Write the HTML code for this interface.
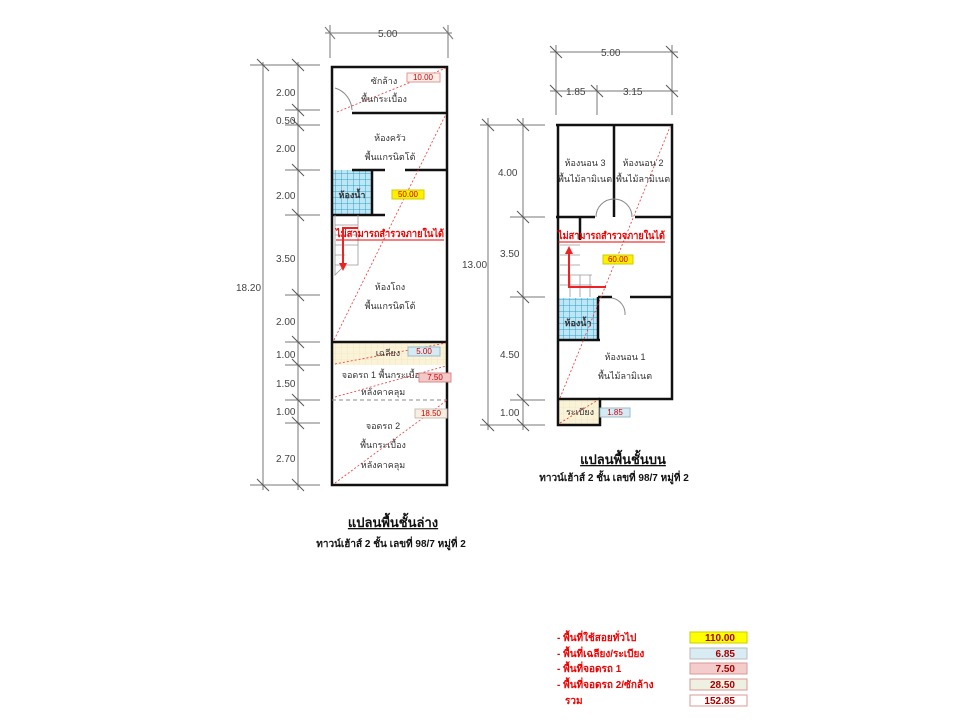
<!DOCTYPE html>
<html><head><meta charset="utf-8"><style>
html,body{margin:0;padding:0;background:#fff;width:960px;height:720px;overflow:hidden}
svg{display:block}
text{font-family:"Liberation Sans","DejaVu Sans",sans-serif}
.d{font-size:10px;fill:#444}
.t{font-size:9px;fill:#333;text-anchor:middle}
.r{font-size:10px;fill:#e00;font-weight:bold}
.b{font-size:8px;fill:#c00;text-anchor:middle}
</style></head><body>
<svg width="960" height="720" viewBox="0 0 960 720">
<defs>
<pattern id="g" width="6" height="6" patternUnits="userSpaceOnUse"><rect width="6" height="6" fill="#bfe6f5"/><path d="M6 0V6M0 6H6" stroke="#2aa3cf" stroke-width="1"/></pattern>
<pattern id="y" width="6" height="6" patternUnits="userSpaceOnUse"><rect width="6" height="6" fill="#fbf3d8"/><path d="M6 0V6M0 6H6" stroke="#eadfb8" stroke-width="0.6"/></pattern>
</defs>
<!-- LEFT PLAN -->
<g stroke="#777" stroke-width="1" fill="none">
<line x1="325" y1="33" x2="452" y2="33"/>
<line x1="330" y1="25" x2="330" y2="58"/><line x1="448" y1="25" x2="448" y2="58"/>
<line x1="325" y1="27" x2="335" y2="39"/><line x1="443" y1="27" x2="453" y2="39"/>
<line x1="263" y1="62" x2="263" y2="490"/><line x1="298" y1="62" x2="298" y2="490"/>
<line x1="250" y1="65" x2="320" y2="65"/><line x1="250" y1="485" x2="320" y2="485"/>
<line x1="285" y1="110" x2="320" y2="110"/><line x1="285" y1="125" x2="320" y2="125"/>
<line x1="285" y1="170" x2="320" y2="170"/><line x1="285" y1="215" x2="320" y2="215"/>
<line x1="285" y1="295" x2="320" y2="295"/><line x1="285" y1="342" x2="320" y2="342"/>
<line x1="285" y1="365" x2="320" y2="365"/><line x1="285" y1="400" x2="320" y2="400"/>
<line x1="285" y1="423" x2="320" y2="423"/>
</g>
<g stroke="#555" stroke-width="1">
<line x1="257" y1="59" x2="269" y2="71"/><line x1="292" y1="59" x2="304" y2="71"/>
<line x1="292" y1="104" x2="304" y2="116"/><line x1="292" y1="119" x2="304" y2="131"/>
<line x1="292" y1="164" x2="304" y2="176"/><line x1="292" y1="209" x2="304" y2="221"/>
<line x1="292" y1="289" x2="304" y2="301"/><line x1="292" y1="336" x2="304" y2="348"/>
<line x1="292" y1="359" x2="304" y2="371"/><line x1="292" y1="394" x2="304" y2="406"/>
<line x1="292" y1="417" x2="304" y2="429"/><line x1="257" y1="479" x2="269" y2="491"/><line x1="292" y1="479" x2="304" y2="491"/>
</g>
<text class="d" x="378" y="37">5.00</text>
<text class="d" x="276" y="96">2.00</text><text class="d" x="276" y="124">0.50</text>
<text class="d" x="276" y="152">2.00</text><text class="d" x="276" y="199">2.00</text>
<text class="d" x="276" y="262">3.50</text><text class="d" x="276" y="325">2.00</text>
<text class="d" x="276" y="358">1.00</text><text class="d" x="276" y="387">1.50</text>
<text class="d" x="276" y="415">1.00</text><text class="d" x="276" y="462">2.70</text>
<text class="d" x="236" y="291">18.20</text>
<rect x="333" y="342" width="114" height="23" fill="url(#y)"/>
<rect x="333" y="170" width="39" height="45" fill="url(#g)"/>
<g stroke="#111" stroke-width="2.5" fill="none">
<rect x="332" y="67" width="115" height="418"/>
<line x1="352" y1="113" x2="447" y2="113"/>
<line x1="352" y1="170" x2="385" y2="170"/><line x1="405" y1="170" x2="447" y2="170"/>
<line x1="372" y1="170" x2="372" y2="215"/><line x1="332" y1="215" x2="385" y2="215"/>
<line x1="332" y1="342" x2="447" y2="342"/>
</g>
<path d="M335 88 A24 24 0 0 1 352 110" stroke="#888" fill="none"/>
<g stroke="#999" stroke-width="0.8" fill="none">
<path d="M335 215 V275 L345 265 H358 V215"/>
<path d="M335 225H358M335 235H358M335 245H358M335 255H345M335 265H345"/>
</g>
<line x1="332" y1="400" x2="447" y2="400" stroke="#888" stroke-dasharray="4,3"/>
<g stroke="#e33" stroke-width="0.8" stroke-dasharray="2,2" fill="none">
<line x1="337" y1="112" x2="446" y2="68"/><line x1="334" y1="340" x2="446" y2="114"/>
<line x1="335" y1="364" x2="446" y2="343"/><line x1="335" y1="397" x2="446" y2="366"/>
<line x1="335" y1="483" x2="446" y2="401"/>
</g>
<text class="t" x="384" y="84">ซักล้าง</text><text class="t" x="384" y="102">พื้นกระเบื้อง</text>
<text class="t" x="390" y="141">ห้องครัว</text><text class="t" x="390" y="160">พื้นแกรนิตโต้</text>
<text class="t" x="352" y="198" font-weight="bold">ห้องน้ำ</text>
<text class="t" x="390" y="290">ห้องโถง</text><text class="t" x="390" y="309">พื้นแกรนิตโต้</text>
<text class="t" x="388" y="356">เฉลียง</text>
<text class="t" x="383" y="378">จอดรถ 1 พื้นกระเบื้อง</text><text class="t" x="383" y="395">หลังคาคลุม</text>
<text class="t" x="383" y="429">จอดรถ 2</text><text class="t" x="383" y="448">พื้นกระเบื้อง</text><text class="t" x="383" y="468">หลังคาคลุม</text>
<rect x="407" y="73" width="33" height="9" fill="#fbeee8" stroke="#d99"/><text class="b" x="423" y="80">10.00</text>
<rect x="392" y="190" width="32" height="9" fill="#ffef00" stroke="#cc0"/><text class="b" x="408" y="197">50.00</text>
<rect x="408" y="347" width="32" height="9" fill="#d6eaf4" stroke="#9bc"/><text class="b" x="424" y="354">5.00</text>
<rect x="419" y="373" width="32" height="9" fill="#f3c8c8" stroke="#d88"/><text class="b" x="435" y="380">7.50</text>
<rect x="415" y="409" width="32" height="9" fill="#f7efe0" stroke="#cbb"/><text class="b" x="431" y="416">18.50</text>
<text class="r" x="336" y="237" textLength="108" lengthAdjust="spacingAndGlyphs">ไม่สามารถสำรวจภายในได้</text>
<line x1="336" y1="240" x2="444" y2="240" stroke="#e00"/>
<path d="M358 228 H343 V266" stroke="#e22" stroke-width="2" fill="none"/><path d="M339 263 L343 271 L347 263Z" fill="#e22"/>
<text x="393" y="527" font-size="13" font-weight="bold" text-anchor="middle" fill="#111" text-decoration="underline">แปลนพื้นชั้นล่าง</text>
<text x="391" y="547" font-size="10" font-weight="bold" text-anchor="middle" fill="#111">ทาวน์เฮ้าส์ 2 ชั้น เลขที่ 98/7 หมู่ที่ 2</text>

<!-- RIGHT PLAN -->
<g stroke="#777" stroke-width="1" fill="none">
<line x1="550" y1="52" x2="678" y2="52"/><line x1="550" y1="91" x2="678" y2="91"/>
<line x1="556" y1="45" x2="556" y2="115"/><line x1="672" y1="45" x2="672" y2="115"/><line x1="597" y1="85" x2="597" y2="115"/>
<line x1="488" y1="118" x2="488" y2="430"/><line x1="523" y1="118" x2="523" y2="430"/>
<line x1="480" y1="125" x2="545" y2="125"/><line x1="510" y1="217" x2="545" y2="217"/>
<line x1="510" y1="297" x2="545" y2="297"/><line x1="510" y1="400" x2="545" y2="400"/>
<line x1="480" y1="425" x2="545" y2="425"/>
</g>
<g stroke="#555">
<line x1="550" y1="46" x2="562" y2="58"/><line x1="666" y1="46" x2="678" y2="58"/>
<line x1="550" y1="85" x2="562" y2="97"/><line x1="591" y1="85" x2="603" y2="97"/><line x1="666" y1="85" x2="678" y2="97"/>
<line x1="482" y1="119" x2="494" y2="131"/><line x1="517" y1="119" x2="529" y2="131"/>
<line x1="517" y1="211" x2="529" y2="223"/><line x1="517" y1="291" x2="529" y2="303"/>
<line x1="517" y1="394" x2="529" y2="406"/><line x1="482" y1="419" x2="494" y2="431"/><line x1="517" y1="419" x2="529" y2="431"/>
</g>
<text class="d" x="601" y="56">5.00</text><text class="d" x="566" y="95">1.85</text><text class="d" x="623" y="95">3.15</text>
<text class="d" x="498" y="176">4.00</text><text class="d" x="500" y="257">3.50</text>
<text class="d" x="462" y="268">13.00</text><text class="d" x="500" y="358">4.50</text><text class="d" x="500" y="416">1.00</text>
<rect x="559" y="298" width="39" height="42" fill="url(#g)"/>
<rect x="559" y="400" width="41" height="25" fill="url(#y)"/>
<g stroke="#111" stroke-width="2.5" fill="none">
<path d="M556 125 H672 V399 H600 V425 H558 V125"/>
<line x1="614" y1="125" x2="614" y2="217"/>
<line x1="556" y1="217" x2="595" y2="217"/><line x1="635" y1="217" x2="672" y2="217"/>
<line x1="580" y1="217" x2="580" y2="240"/>
<line x1="598" y1="297" x2="598" y2="340"/><line x1="558" y1="340" x2="600" y2="340"/>
<line x1="598" y1="297" x2="612" y2="297"/><line x1="630" y1="297" x2="672" y2="297"/>
<line x1="558" y1="399" x2="600" y2="399"/>
</g>
<path d="M596 217 A18 18 0 0 1 614 199 M614 199 A18 18 0 0 1 632 217 M612 298 A16 16 0 0 1 625 315" stroke="#888" fill="none"/>
<g stroke="#999" stroke-width="0.8" fill="none">
<path d="M560 245H580M560 255H580M560 265H580M560 275H592M560 285H592M570 275V297M580 275V297M590 275V297"/>
</g>
<g stroke="#e33" stroke-width="0.8" stroke-dasharray="2,2" fill="none">
<line x1="560" y1="398" x2="670" y2="127"/><line x1="560" y1="423" x2="598" y2="400"/>
</g>
<text class="t" x="585" y="166">ห้องนอน 3</text><text class="t" x="585" y="182" font-size="8">พื้นไม้ลามิเนต</text>
<text class="t" x="643" y="166">ห้องนอน 2</text><text class="t" x="643" y="182" font-size="8">พื้นไม้ลามิเนต</text>
<text class="t" x="578" y="326" font-weight="bold">ห้องน้ำ</text>
<text class="t" x="625" y="360">ห้องนอน 1</text><text class="t" x="625" y="379">พื้นไม้ลามิเนต</text>
<text class="t" x="580" y="415">ระเบียง</text>
<rect x="603" y="255" width="30" height="9" fill="#ffef00" stroke="#cc0"/><text class="b" x="618" y="262">60.00</text>
<rect x="600" y="408" width="30" height="9" fill="#d6eaf4" stroke="#9bc"/><text class="b" x="615" y="415">1.85</text>
<text class="r" x="558" y="239" textLength="107" lengthAdjust="spacingAndGlyphs">ไม่สามารถสำรวจภายในได้</text>
<line x1="558" y1="242" x2="665" y2="242" stroke="#e00"/>
<path d="M606 287 H569 V250" stroke="#e22" stroke-width="2" fill="none"/><path d="M565 254 L569 246 L573 254Z" fill="#e22"/>
<text x="623" y="464" font-size="13" font-weight="bold" text-anchor="middle" fill="#111" text-decoration="underline">แปลนพื้นชั้นบน</text>
<text x="614" y="481" font-size="10" font-weight="bold" text-anchor="middle" fill="#111">ทาวน์เฮ้าส์ 2 ชั้น เลขที่ 98/7 หมู่ที่ 2</text>

<!-- LEGEND -->
<text class="r" x="557" y="641">- พื้นที่ใช้สอยทั่วไป</text>
<text class="r" x="557" y="657">- พื้นที่เฉลียง/ระเบียง</text>
<text class="r" x="557" y="672">- พื้นที่จอดรถ 1</text>
<text class="r" x="557" y="688">- พื้นที่จอดรถ 2/ซักล้าง</text>
<text class="r" x="565" y="704">รวม</text>
<g font-size="10" font-weight="bold" fill="#a00" text-anchor="end">
<rect x="690" y="632" width="57" height="11" fill="#ffff00" stroke="#cc0"/><text x="735" y="641">110.00</text>
<rect x="690" y="648" width="57" height="11" fill="#d9ebf3" stroke="#bbb"/><text x="735" y="657">6.85</text>
<rect x="690" y="663" width="57" height="11" fill="#f3cccc" stroke="#d99"/><text x="735" y="672">7.50</text>
<rect x="690" y="679" width="57" height="11" fill="#eef0e2" stroke="#d99"/><text x="735" y="688">28.50</text>
<rect x="690" y="695" width="57" height="11" fill="#fff" stroke="#d99"/><text x="735" y="704">152.85</text>
</g>
</svg>
</body></html>
